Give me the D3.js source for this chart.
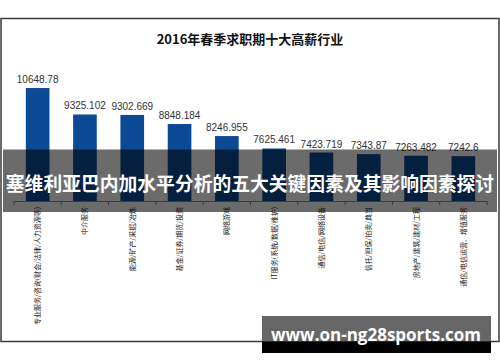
<!DOCTYPE html>
<html>
<head>
<meta charset="utf-8">
<script src="https://cdn.jsdelivr.net/npm/d3@7/dist/d3.min.js"></script>
<style>
  html, body { margin: 0; padding: 0; background: #fff; }
  svg { display: block; }
</style>
</head>
<body>
<div id="chart"></div>
<script>
// chart data
const title = '2016年春季求职期十大高薪行业';
const categories = [
  '专业服务/咨询(财会/法律/人力资源等)',
  '中介服务',
  '能源/矿产/采掘/冶炼',
  '基金/证券/期货/投资',
  '网络游戏',
  'IT服务(系统/数据/维护)',
  '通信/电信/网络设备',
  '信托/担保/拍卖/典当',
  '房地产/建筑/建材/工程',
  '通信/电信运营、增值服务'
];
const values = [10648.78, 9325.102, 9302.669, 8848.184, 8246.955, 7625.461, 7423.719, 7343.87, 7263.482, 7242.6];
const valueLabels = ['10648.78', '9325.102', '9302.669', '8848.184', '8246.955', '7625.461', '7423.719', '7343.87', '7263.482', '7242.6'];
const yDomain = [5000, 12000];
const overlayText = '塞维利亚巴内加水平分析的五大关键因素及其影响因素探讨';
const watermark = 'www.on-ng28sports.com';

const width = 500, height = 362;
const cjk = '"Noto Sans CJK SC", "Noto Sans", sans-serif';

const svg = d3.select('#chart').append('svg')
  .attr('width', width)
  .attr('height', height)
  .attr('viewBox', `0 0 ${width} ${height}`);

// outer frame of the pasted excel chart
svg.append('rect')
  .attr('x', 1).attr('y', 18.5)
  .attr('width', 498).attr('height', 323)
  .attr('fill', '#fff')
  .attr('stroke', '#3a3a3a')
  .attr('stroke-width', 1.5);

svg.append('text')
  .attr('x', 250).attr('y', 44)
  .attr('text-anchor', 'middle')
  .attr('font-family', cjk)
  .attr('font-weight', 'bold')
  .attr('font-size', 13)
  .attr('fill', '#111')
  .text(title);

const x = d3.scaleBand()
  .domain(categories)
  .range([14, 487])
  .paddingInner(0.5)
  .paddingOuter(0.25);

const y = d3.scaleLinear()
  .domain(yDomain)
  .range([201, 61]);

// bars
svg.append('g').selectAll('rect')
    .data(values)
  .enter().append('rect')
    .attr('x', (d, i) => x(categories[i]))
    .attr('y', d => y(d))
    .attr('width', x.bandwidth())
    .attr('height', d => y(yDomain[0]) - y(d))
    .attr('fill', '#0d4a96');

// value labels above bars
svg.append('g').selectAll('text')
    .data(values)
  .enter().append('text')
    .attr('x', (d, i) => x(categories[i]) + x.bandwidth() / 2)
    .attr('y', d => y(d) - 5)
    .attr('text-anchor', 'middle')
    .attr('font-family', '"Liberation Sans", Arial, sans-serif')
    .attr('font-size', 10)
    .attr('fill', '#333')
    .text((d, i) => valueLabels[i]);

// category axis: line plus ticks on the band boundaries
const axis = svg.append('g')
  .attr('transform', `translate(0, ${y(yDomain[0])})`)
  .call(d3.axisBottom(x).tickSize(0).tickFormat(''));
axis.select('.domain').attr('stroke', '#8a8a8a');

const gap = x.step() - x.bandwidth();
const bounds = categories.map(c => x(c) - gap / 2).concat([x(categories[categories.length - 1]) + x.bandwidth() + gap / 2]);
axis.selectAll('.bound')
    .data(bounds)
  .enter().append('line')
    .attr('class', 'bound')
    .attr('x1', d => d).attr('x2', d => d)
    .attr('y1', 0).attr('y2', 4)
    .attr('stroke', '#8a8a8a');

// rotated category labels (read bottom to top)
svg.append('g').selectAll('text')
    .data(categories)
  .enter().append('text')
    .attr('transform', d => `translate(${x(d) + x.bandwidth() / 2}, 207) rotate(-90)`)
    .attr('dy', '0.36em')
    .attr('text-anchor', 'end')
    .attr('font-family', cjk)
    .attr('font-size', 7)
    .attr('fill', '#1a1a1a')
    .text(d => d);

// dark translucent band with headline
svg.append('rect')
  .attr('x', 3).attr('y', 149.5)
  .attr('width', 494).attr('height', 62.5)
  .attr('fill', '#000')
  .attr('fill-opacity', 0.58);

svg.append('text')
  .attr('x', 250).attr('y', 191)
  .attr('text-anchor', 'middle')
  .attr('font-family', cjk)
  .attr('font-weight', 'bold')
  .attr('font-size', 18.8)
  .attr('fill', '#fff')
  .text(overlayText);

// watermark box at the bottom right
svg.append('rect')
  .attr('x', 262).attr('y', 316)
  .attr('width', 229).attr('height', 25.5)
  .attr('fill', '#666');
svg.append('rect')
  .attr('x', 262).attr('y', 341.5)
  .attr('width', 229).attr('height', 11.5)
  .attr('fill', '#000');

svg.append('text')
  .attr('x', 376).attr('y', 341)
  .attr('text-anchor', 'middle')
  .attr('font-family', '"Open Sans", "DejaVu Sans", sans-serif')
  .attr('font-weight', 'bold')
  .attr('font-size', 17)
  .attr('fill', '#fff')
  .text(watermark);
</script>
</body>
</html>
